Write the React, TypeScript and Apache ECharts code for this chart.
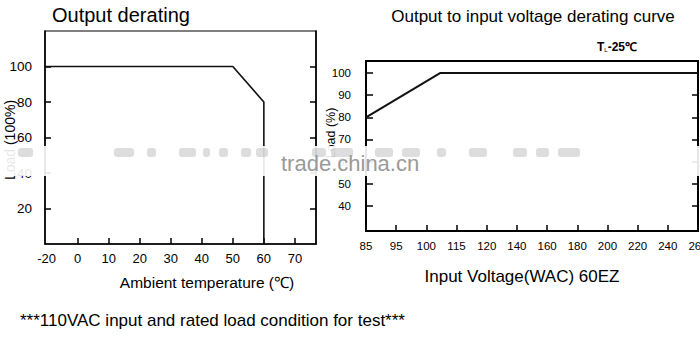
import React, { useEffect, useRef } from "react";
import * as echarts from "echarts";

// Left chart: Output derating
const TEMP = [-21, 50, 60, 60];
const LOAD = [100, 100, 80, 0];
const TEMP_LABELS = [-20, 0, 10, 20, 30, 40, 50, 60, 70];
const TEMP_TICKS = [0, 10, 20, 30, 40, 50, 60, 70];
const LOAD_TICKS = [20, 40, 60, 80, 100];

// Right chart: Output to input voltage derating
const VOLT = [85, 107, 264];
const LOAD2 = [80, 100, 100];
const VOLT_LABELS = [85, 95, 100, 115, 120, 140, 160, 180, 200, 220, 240, 264];
const LOAD2_TICKS = [40, 50, 60, 70, 80, 90, 100];

// watermark blobs [x, width]
const BLOBS = [[18, 15], [114, 20], [147, 9], [179, 17], [203, 7], [219, 9], [241, 10], [256, 12], [312, 14], [331, 22], [375, 18], [402, 18], [437, 9], [469, 18], [513, 14], [536, 13], [558, 22]];

const FONT = "'Liberation Sans', Arial, sans-serif";

// the temperature axis is compressed below 0 °C (as in the original drawing)
const compress = (t: number) => (t < 0 ? t / 2 : t);
// voltage axis: labels are evenly spaced, interpolate between them
const voltToIdx = (v: number) => {
  for (let i = 0; i < VOLT_LABELS.length - 1; i++) {
    const a = VOLT_LABELS[i], b = VOLT_LABELS[i + 1];
    if (v >= a && v <= b) return i + (v - a) / (b - a);
  }
  return v < VOLT_LABELS[0] ? 0 : VOLT_LABELS.length - 1;
};

export default function App() {
  const ref = useRef<HTMLDivElement>(null);
  useEffect(() => {
    const chart = echarts.init(ref.current!, null, { renderer: "svg" });
    const black = "#000";
    const axisLine = { show: true, onZero: false, lineStyle: { color: black, width: 1.5 } };
    const option: any = {
      animation: false,
      backgroundColor: "#fff",
      grid: [
        { left: 45, top: 31, width: 271, height: 213, show: true, borderColor: black, borderWidth: 1.2, backgroundColor: "transparent", outerBoundsMode: "none", containLabel: false },
        { left: 366, top: 61, width: 332, height: 170, show: true, borderColor: black, borderWidth: 2, backgroundColor: "transparent", outerBoundsMode: "none", containLabel: false },
      ],
      xAxis: [
        {
          gridIndex: 0, type: "value", min: compress(-21), max: 76.8,
          axisLine, splitLine: { show: false },
          axisTick: { show: true, inside: true, length: 6, customValues: TEMP_TICKS, lineStyle: { color: black, width: 1.5 } },
          axisLabel: {
            customValues: TEMP_LABELS.map(compress),
            formatter: (v: number) => { const i = TEMP_LABELS.map(compress).indexOf(v); return i >= 0 ? String(TEMP_LABELS[i]) : ""; },
            color: black, fontSize: 13, margin: 8, fontFamily: FONT,
          },
        },
        {
          gridIndex: 1, type: "value", min: 0, max: VOLT_LABELS.length - 1, interval: 1,
          axisLine, splitLine: { show: false },
          axisTick: { show: true, inside: true, length: 6, lineStyle: { color: black, width: 1.5 } },
          axisLabel: {
            formatter: (v: number) => String(VOLT_LABELS[Math.round(v)] ?? ""),
            color: black, fontSize: 11.5, margin: 9, fontFamily: FONT, showMinLabel: true, showMaxLabel: true,
          },
        },
      ],
      yAxis: [
        {
          gridIndex: 0, type: "value", min: 0, max: 120, position: "left",
          axisLine, splitLine: { show: false },
          axisTick: { show: true, inside: true, length: 6, customValues: LOAD_TICKS, lineStyle: { color: black, width: 1.5 } },
          axisLabel: { customValues: LOAD_TICKS, color: black, fontSize: 13.5, margin: 13, fontFamily: FONT },
        },
        {
          gridIndex: 0, type: "value", min: 0, max: 120, position: "right",
          axisLine, splitLine: { show: false },
          axisTick: { show: true, inside: true, length: 6, customValues: LOAD_TICKS, lineStyle: { color: black, width: 1.5 } },
          axisLabel: { show: false },
        },
        {
          gridIndex: 1, type: "value", min: 28.7, max: 105.4, position: "left",
          axisLine, splitLine: { show: false },
          axisTick: { show: true, inside: true, length: 7, customValues: LOAD2_TICKS, lineStyle: { color: black, width: 1.5 } },
          axisLabel: { customValues: LOAD2_TICKS, color: black, fontSize: 11.5, margin: 15, fontFamily: FONT },
        },
        {
          gridIndex: 1, type: "value", min: 28.7, max: 105.4, position: "right",
          axisLine, splitLine: { show: false },
          axisTick: { show: true, inside: true, length: 6, customValues: LOAD2_TICKS, lineStyle: { color: black, width: 1.5 } },
          axisLabel: { show: false },
        },
      ],
      series: [
        {
          type: "line", xAxisIndex: 0, yAxisIndex: 0, symbol: "none",
          data: TEMP.map((t, i) => [compress(t), LOAD[i]]),
          lineStyle: { color: "#111", width: 1.6 },
        },
        {
          type: "line", xAxisIndex: 1, yAxisIndex: 2, symbol: "none",
          data: VOLT.map((v, i) => [voltToIdx(v), LOAD2[i]]),
          lineStyle: { color: "#111", width: 2 },
        },
      ],
      graphic: [
        { type: "text", left: 52, top: 5, style: { text: "Output derating", fontSize: 20, fontFamily: FONT, fill: "#000" } },
        { type: "text", x: 533, y: 16, style: { text: "Output to input voltage derating curve", fontSize: 17, fontFamily: FONT, fill: "#000", align: "center", verticalAlign: "middle" } },
        {
          type: "text", x: 597, y: 47,
          style: {
            text: "{a|T}{b|L}{a|-25℃}", verticalAlign: "middle",
            rich: { a: { fontSize: 12, fontWeight: "bold", fontFamily: FONT, fill: "#000" }, b: { fontSize: 6, fontFamily: FONT, fill: "#000", padding: [6, 0, 0, 0] } },
          },
        },
        { type: "text", x: 207, y: 282, style: { text: "Ambient temperature (℃)", fontSize: 15.5, fontFamily: FONT, fill: "#000", align: "center", verticalAlign: "middle" } },
        { type: "text", x: 522, y: 276, style: { text: "Input Voltage(WAC) 60EZ", fontSize: 17, fontFamily: FONT, fill: "#000", align: "center", verticalAlign: "middle" } },
        { type: "text", x: 10, y: 140, rotation: Math.PI / 2, style: { text: "Load (100%)", fontSize: 14, fontFamily: FONT, fill: "#000", align: "center", verticalAlign: "middle" } },
        { type: "text", x: 331, y: 133, rotation: Math.PI / 2, style: { text: "Load (%)", fontSize: 12.5, fontFamily: FONT, fill: "#000", align: "center", verticalAlign: "middle" } },
        { type: "text", x: 20, y: 320, style: { text: "***110VAC input and rated load condition for test***", fontSize: 17, fontFamily: FONT, fill: "#000", verticalAlign: "middle" } },
        // watermark band
        { type: "rect", shape: { x: 0, y: 146, width: 700, height: 30 }, style: { fill: "rgba(255,255,255,0.9)" }, z: 100 },
        ...BLOBS.map(([x, w]) => ({ type: "rect", z: 101, shape: { x, y: 148, width: w, height: 9, r: 3 }, style: { fill: "rgba(120,120,120,0.25)" } })),
        { type: "text", x: 281, y: 163, z: 102, style: { text: "trade.china.cn", fontSize: 22, fontFamily: FONT, fill: "#9a9a9a", verticalAlign: "middle" } },
      ],
    };
    chart.setOption(option);
    return () => chart.dispose();
  }, []);
  return <div ref={ref} style={{ position: "fixed", left: 0, top: 0, width: 700, height: 342 }} />;
}
